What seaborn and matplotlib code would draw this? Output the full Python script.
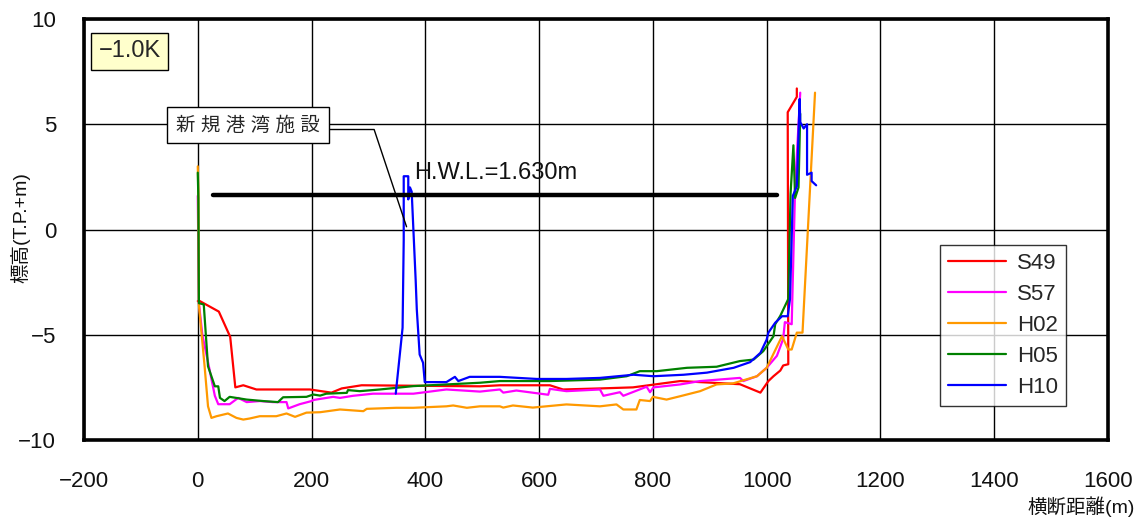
import numpy as np
import pandas as pd
import seaborn as sns
import matplotlib
matplotlib.use("Agg")
import matplotlib.pyplot as plt

# ---------------- data ----------------
series_names = ["S49", "S57", "H02", "H05", "H10"]
series_colors = ["#FF0000", "#FF00FF", "#FF9900", "#008000", "#0000FF"]

s49_x = [0, 3.5, 37, 57, 66, 80, 103, 197, 235, 253, 288, 496, 531, 619, 642, 707, 765, 848, 953, 989, 1003, 1012, 1024, 1029, 1038, 1037, 1053, 1053]
s49_y = [-3.4, -3.4, -3.9, -5.1, -7.5, -7.4, -7.6, -7.6, -7.75, -7.55, -7.4, -7.45, -7.4, -7.4, -7.6, -7.55, -7.5, -7.2, -7.35, -7.75, -7.2, -6.97, -6.7, -6.46, -6.4, 5.57, 6.3, 6.7]

s57_x = [0, 2, 8, 18, 30, 36, 56, 71, 86, 109, 132, 156, 159, 179, 200, 203, 238, 250, 273, 308, 344, 379, 437, 496, 531, 537, 560, 616, 619, 648, 707, 713, 742, 748, 789, 795, 801, 848, 883, 953, 959, 983, 1000, 1018, 1029, 1032, 1044, 1050, 1059]
s57_y = [1.6, -3.5, -5.0, -6.3, -7.9, -8.3, -8.3, -8.0, -8.2, -8.15, -8.2, -8.2, -8.5, -8.3, -8.15, -8.1, -7.95, -8.0, -7.9, -7.8, -7.8, -7.8, -7.6, -7.7, -7.6, -7.75, -7.65, -7.85, -7.57, -7.68, -7.6, -7.9, -7.73, -7.9, -7.47, -7.73, -7.5, -7.36, -7.2, -7.05, -7.2, -6.97, -6.57, -6.0, -5.2, -4.4, -4.5, 2.0, 6.5]

h02_x = [0, 1, 2, 12, 18, 24, 33, 53, 68, 80, 91, 109, 138, 156, 171, 191, 215, 250, 291, 297, 349, 379, 437, 449, 473, 496, 531, 537, 554, 589, 648, 707, 736, 748, 771, 777, 795, 800, 824, 848, 883, 912, 941, 983, 1000, 1027, 1038, 1044, 1053, 1063, 1085]
h02_y = [3.0, 1.8, -3.6, -6.5, -8.4, -8.95, -8.87, -8.74, -8.95, -9.03, -8.98, -8.87, -8.87, -8.74, -8.9, -8.7, -8.68, -8.55, -8.63, -8.52, -8.47, -8.47, -8.4, -8.36, -8.47, -8.4, -8.4, -8.46, -8.36, -8.46, -8.31, -8.4, -8.31, -8.55, -8.55, -8.1, -8.15, -7.95, -8.08, -7.92, -7.68, -7.36, -7.31, -6.97, -6.57, -5.07, -5.7, -5.7, -4.9, -4.9, 6.5]

h05_x = [0, 1, 2, 10.5, 18, 30, 36, 39, 47, 56, 86, 115, 141, 150, 191, 203, 215, 226, 262, 264, 285, 320, 379, 496, 531, 619, 707, 754, 777, 807, 860, 912, 953, 977, 994, 1012, 1015, 1024, 1038, 1042, 1047, 1050, 1056, 1059]
h05_y = [2.7, 1.5, -3.5, -3.56, -6.5, -7.45, -7.45, -8.0, -8.15, -7.95, -8.08, -8.15, -8.2, -7.97, -7.95, -7.84, -7.89, -7.8, -7.76, -7.63, -7.68, -7.6, -7.44, -7.28, -7.2, -7.2, -7.13, -6.97, -6.73, -6.73, -6.57, -6.52, -6.25, -6.18, -5.78, -5.07, -4.5, -4.1, -3.3, 1.7, 4.0, 1.5, 2.0, 5.5]

h10_x = [348, 360, 362, 362, 370, 370, 373, 376, 383, 385, 390, 396, 399, 437, 452, 458, 478, 496, 531, 596, 648, 707, 766, 801, 854, 895, 942, 971, 989, 1000, 1003, 1015, 1027, 1037, 1041, 1046, 1053, 1058, 1059, 1065, 1071, 1071, 1079, 1079, 1087]
h10_y = [-7.8, -4.67, -0.5, 2.53, 2.53, 1.43, 2.0, 1.8, -2.4, -3.8, -5.94, -6.33, -7.25, -7.25, -7.0, -7.2, -7.0, -7.0, -7.0, -7.1, -7.1, -7.05, -6.9, -6.97, -6.9, -6.8, -6.57, -6.3, -5.86, -5.23, -4.9, -4.43, -4.12, -4.12, -3.3, 1.6, 2.05, 6.2, 5.1, 4.8, 5.0, 2.6, 2.7, 2.3, 2.1]

hwl_level = 1.630
hwl_x = [27, 1019]

x_ticks = [-200, 0, 200, 400, 600, 800, 1000, 1200, 1400, 1600]
y_ticks = [-10, -5, 0, 5, 10]

# ---------------- build frame ----------------
xs = [s49_x, s57_x, h02_x, h05_x, h10_x]
ys = [s49_y, s57_y, h02_y, h05_y, h10_y]
frames = []
for name, x, y in zip(series_names, xs, ys):
    frames.append(pd.DataFrame({"x": x, "y": y, "series": name,
                                "order": np.arange(len(x))}))
df = pd.concat(frames, ignore_index=True)

# ---------------- style ----------------
sns.set_theme(style="white")
plt.rcParams["font.family"] = ["Liberation Sans", "Noto Sans CJK JP", "DejaVu Sans"]
plt.rcParams["axes.unicode_minus"] = True

fig = plt.figure(figsize=(11.44, 5.22), dpi=100)
ax = fig.add_axes([84 / 1144, 1 - 440 / 522, (1108 - 84) / 1144, (440 - 19) / 522])

sns.lineplot(data=df, x="x", y="y", hue="series", hue_order=series_names,
             palette=dict(zip(series_names, series_colors)), sort=False,
             estimator=None, units="series", linewidth=1.6, ax=ax, zorder=3)

# HWL line
ax.plot(hwl_x, [hwl_level, hwl_level], color="black", linewidth=3.2,
        solid_capstyle="round", zorder=4)
ax.text(381, 2.15, f"H.W.L.={hwl_level:.3f}m", fontsize=17, color="#111111",
        ha="left", va="bottom", zorder=5)

ax.set_xlim(-200, 1600)
ax.set_ylim(-10, 10)
ax.set_xticks(x_ticks)
ax.set_yticks(y_ticks)
ax.grid(True, color="black", linewidth=1.0)
ax.set_axisbelow(True)
for s in ax.spines.values():
    s.set_color("black")
    s.set_linewidth(2.6)
ax.tick_params(axis="both", length=0, labelsize=16, colors="#111111")
ax.tick_params(axis="x", pad=22)
ax.tick_params(axis="y", pad=20)
ax.set_xlabel("")
ax.set_ylabel("")

fig.text(1135 / 1144, 1 - 507 / 522, "横断距離(m)", ha="right", va="center",
         fontsize=14, color="#111111")
fig.text(20 / 1144, 1 - 228 / 522, "標高(T.P.+m)", ha="center", va="center",
         rotation=90, fontsize=14, color="#111111")

# -1.0K label
ax.text(-120, 8.46, "\u22121.0K", fontsize=17, ha="center", va="center", zorder=6,
        bbox=dict(boxstyle="square,pad=0.3", facecolor="#FFFFCC",
                  edgecolor="black", linewidth=1.0))

# facility label with leader line
ax.text(88, 4.95, "新 規 港 湾 施 設", fontsize=14, ha="center", va="center",
        zorder=6, bbox=dict(boxstyle="square,pad=0.45", facecolor="white",
                            edgecolor="black", linewidth=1.0))
ax.plot([229, 310, 367], [4.75, 4.75, 0.13], color="black", linewidth=1.0, zorder=5)

# legend
handles, labels = ax.get_legend_handles_labels()
leg = ax.legend(handles, labels, loc="upper left", bbox_to_anchor=(0.836, 0.463),
                borderaxespad=0, frameon=True, fancybox=False, fontsize=16,
                handlelength=2.6, labelspacing=0.45, handletextpad=0.5,
                borderpad=0.35, edgecolor="black")
leg.get_frame().set_linewidth(1.0)
for line in leg.get_lines():
    line.set_linewidth(1.6)

fig.savefig("out.png", dpi=100)
